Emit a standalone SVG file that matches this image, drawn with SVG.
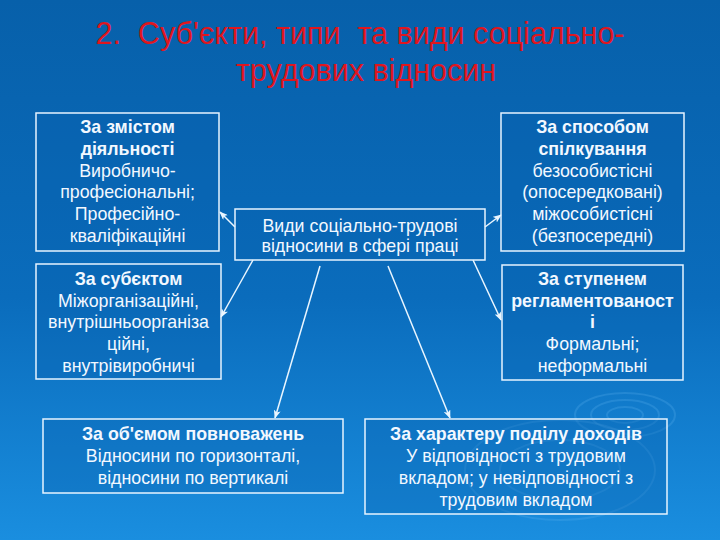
<svg xmlns="http://www.w3.org/2000/svg" width="720" height="540" viewBox="0 0 720 540">
  <defs>
    <linearGradient id="bg" x1="0" y1="0" x2="0" y2="1">
      <stop offset="0" stop-color="#0760AA"/>
      <stop offset="0.55" stop-color="#0A6CBC"/>
      <stop offset="1" stop-color="#1A8EDF"/>
    </linearGradient>
    <marker id="arr" viewBox="0 0 10 8" refX="9" refY="4" markerWidth="9" markerHeight="7" markerUnits="userSpaceOnUse" orient="auto">
      <path d="M0,0 L10,4 L0,8 L2.5,4 Z" fill="#EAF6FF"/>
    </marker>
  </defs>
  <style>
    .box { fill: #0A62AE; fill-opacity: 0.35; stroke: #E6F4FF; stroke-width: 1.5; }
    .t { font-family: "Liberation Sans", Arial, sans-serif; font-size: 17.8px; fill: #F2F8FF; text-anchor: middle; }
    .b { font-weight: bold; }
    .title { font-family: "Liberation Sans", Arial, sans-serif; font-size: 30.5px; fill: #E0161E; text-anchor: middle; }
    .conn line { stroke: #EAF6FF; stroke-width: 1.5; marker-end: url(#arr); }
    .ripple { fill: none; stroke: #5FB4F0; stroke-opacity: 0.25; stroke-width: 2; }
  </style>
  <rect width="720" height="540" fill="url(#bg)"/>
  <g id="decor">
    <ellipse class="ripple" cx="625" cy="415" rx="18" ry="8"/>
    <ellipse class="ripple" cx="625" cy="415" rx="34" ry="15"/>
    <ellipse class="ripple" cx="625" cy="415" rx="50" ry="22"/>
    <ellipse class="ripple" cx="560" cy="470" rx="60" ry="30"/>
    <ellipse class="ripple" cx="560" cy="470" rx="95" ry="50"/>
  </g>
  <g id="title">
    <text class="title" x="360" y="44" xml:space="preserve">2.  Суб'єкти, типи  та види соціально-</text>
    <text class="title" x="366" y="81">трудових відносин</text>
  </g>
  <g class="conn" id="connectors">
    <line x1="235" y1="227" x2="220" y2="212"/>
    <line x1="253" y1="260" x2="221" y2="317"/>
    <line x1="485" y1="227" x2="501" y2="215"/>
    <line x1="473" y1="260" x2="501" y2="320"/>
    <line x1="320" y1="266" x2="275" y2="418"/>
    <line x1="388" y1="266" x2="450" y2="418"/>
  </g>
  <g id="center">
    <rect class="box" x="235" y="209" width="250" height="51"/>
    <text class="t" x="360" y="232">Види соціально-трудові</text>
    <text class="t" x="360" y="252">відносини в сфері праці</text>
  </g>
  <g id="content">
    <rect class="box" x="36" y="113" width="183" height="138"/>
    <text class="t b" x="127.5" y="133">За змістом</text>
    <text class="t b" x="127.5" y="155">діяльності</text>
    <text class="t" x="127.5" y="177">Виробничо-</text>
    <text class="t" x="127.5" y="198">професіональні;</text>
    <text class="t" x="127.5" y="220">Професійно-</text>
    <text class="t" x="127.5" y="242">кваліфікаційні</text>
  </g>
  <g id="communication">
    <rect class="box" x="501" y="113" width="183" height="138"/>
    <text class="t b" x="592.5" y="133">За способом</text>
    <text class="t b" x="592.5" y="155">спілкування</text>
    <text class="t" x="592.5" y="177">безособистісні</text>
    <text class="t" x="592.5" y="198">(опосередковані)</text>
    <text class="t" x="592.5" y="220">міжособистісні</text>
    <text class="t" x="592.5" y="242">(безпосередні)</text>
  </g>
  <g id="subject">
    <rect class="box" x="36" y="264" width="185" height="115"/>
    <text class="t b" x="128.5" y="285">За субєктом</text>
    <text class="t" x="128.5" y="307">Міжорганізаційні,</text>
    <text class="t" x="128.5" y="328">внутрішньоорганіза</text>
    <text class="t" x="128.5" y="350">ційні,</text>
    <text class="t" x="128.5" y="372">внутрівиробничі</text>
  </g>
  <g id="regulation">
    <rect class="box" x="502" y="265" width="181" height="115"/>
    <text class="t b" x="592.5" y="285">За ступенем</text>
    <text class="t b" x="592.5" y="307">регламентованост</text>
    <text class="t b" x="592.5" y="328">і</text>
    <text class="t" x="592.5" y="350">Формальні;</text>
    <text class="t" x="592.5" y="372">неформальні</text>
  </g>
  <g id="authority">
    <rect class="box" x="43" y="419" width="300" height="74"/>
    <text class="t b" x="193" y="440">За об'ємом повноважень</text>
    <text class="t" x="193" y="462">Відносини по горизонталі,</text>
    <text class="t" x="193" y="484">відносини по вертикалі</text>
  </g>
  <g id="income">
    <rect class="box" x="365" y="419" width="302" height="95"/>
    <text class="t b" x="516" y="440">За характеру поділу доходів</text>
    <text class="t" x="516" y="462">У відповідності з трудовим</text>
    <text class="t" x="516" y="484">вкладом; у невідповідності з</text>
    <text class="t" x="516" y="506">трудовим вкладом</text>
  </g>
</svg>
